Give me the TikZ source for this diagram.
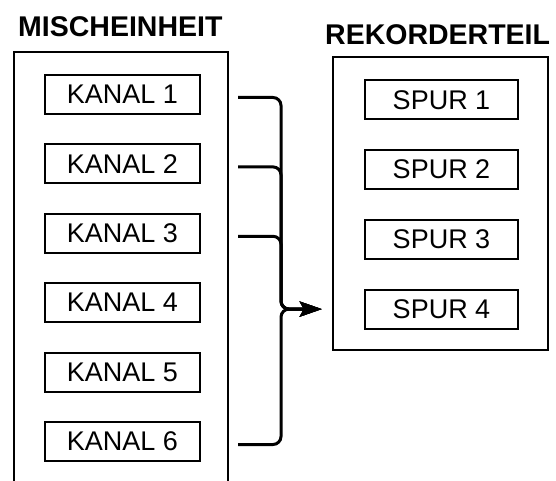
\documentclass[tikz,border=0pt]{standalone}
\usepackage{fontspec}
\setmainfont{Liberation Sans}
\usetikzlibrary{arrows.meta,positioning,calc}

\begin{document}
\begin{tikzpicture}[x=1pt,y=-1pt,
    unitbox/.style={draw,line width=2pt,minimum width=155pt,minimum height=39pt,inner sep=0pt,font=\fontsize{27}{27}\selectfont},
    framestyle/.style={line width=2.4pt},
    titlestyle/.style={font=\fontsize{28.5}{28.5}\selectfont\bfseries,inner sep=0pt,anchor=base west},
    linkstyle/.style={line width=3pt,rounded corners=8pt,-{Stealth[length=22pt,width=15pt,inset=4pt]}}]
    \useasboundingbox (0,0) rectangle (556,481);
    \node[titlestyle] (mischtitle) at (18,37) {MISCHEINHEIT};
    \node[titlestyle] (rektitle) at (325,45) {REKORDERTEIL};
    \draw[framestyle] (14,481) -- (14,52) -- (228,52) -- (228,481);
    \node[draw,framestyle,minimum width=215pt,minimum height=293pt,inner sep=0pt] (rek) at (440.5,203.5) {};
    \foreach \i in {1,...,6} \node[unitbox] (k\i) at (122.5,{94.5+69.4*(\i-1)}) {KANAL \i};
    \foreach \i in {1,...,4} \node[unitbox,minimum width=153pt] (s\i) at (441.5,{100+69.7*(\i-1)}) {SPUR \i};
    \coordinate (j) at ([xshift=80pt]k1.east |- s4);
    \coordinate (tip) at ([xshift=-10pt]rek.west |- s4);
    \foreach \i in {1,2,3,6} {
      \coordinate (o\i) at ([xshift=37pt,yshift=-3pt]k\i.east);
      \draw[linkstyle] (o\i) -| (j) -- (tip);
    }
  \end{tikzpicture}
\end{document}
